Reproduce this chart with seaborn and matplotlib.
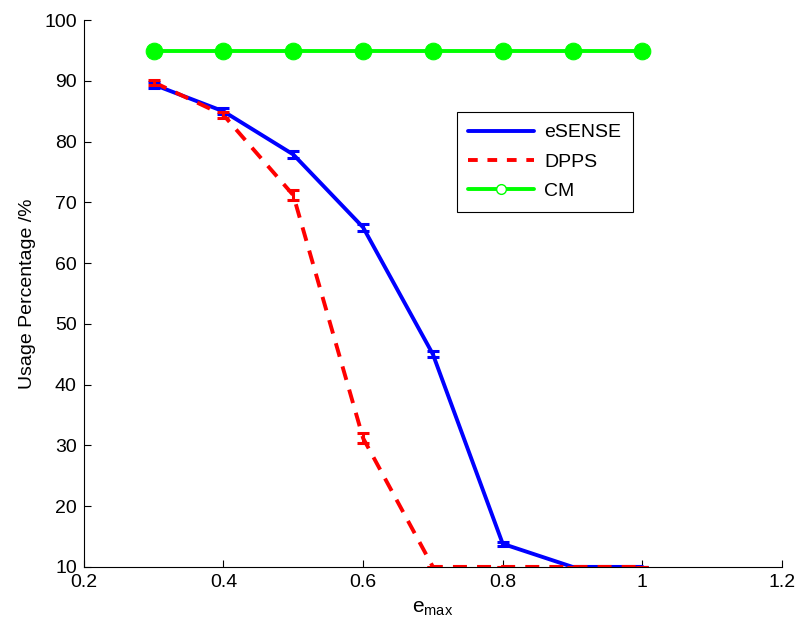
import numpy as np
import pandas as pd
import matplotlib
matplotlib.use("Agg")
import matplotlib.pyplot as plt
import seaborn as sns
from matplotlib.lines import Line2D

sns.set_style("ticks")
plt.rcParams['font.family'] = ['Liberation Sans', 'DejaVu Sans']
plt.rcParams['mathtext.fontset'] = 'custom'
plt.rcParams['mathtext.rm'] = 'Liberation Sans'
for k in ['text.color', 'axes.labelcolor', 'xtick.color', 'ytick.color', 'axes.edgecolor']:
    plt.rcParams[k] = 'black'

e_max = [0.3, 0.4, 0.5, 0.6, 0.7, 0.8, 0.9, 1.0]
esense = [89.4, 85.0, 77.9, 65.9, 45.0, 13.8, 10.0, 10.0]
esense_err = [0.5, 0.5, 0.5, 0.6, 0.5, 0.3, 0.0, 0.0]
dpps = [89.8, 84.4, 71.2, 31.2, 10.0, 10.0, 10.0, 10.0]
dpps_err = [0.4, 0.5, 0.8, 0.8, 0.0, 0.0, 0.0, 0.0]
cm = [95.0, 95.0, 95.0, 95.0, 95.0, 95.0, 95.0, 95.0]

df = pd.DataFrame({
    "e_max": e_max * 3,
    "value": esense + dpps + cm,
    "method": ["eSENSE"] * 8 + ["DPPS"] * 8 + ["CM"] * 8,
})

fig = plt.figure(figsize=(7.98, 6.32), dpi=100)
ax = fig.add_axes([0.105, 0.103, 0.875, 0.865])

blue = (0, 0, 1)
red = (1, 0, 0)
green = (0, 1, 0)

sns.lineplot(data=df[df.method == "eSENSE"], x="e_max", y="value", ax=ax,
             color=blue, lw=2.8, legend=False, errorbar=None)
sns.lineplot(data=df[df.method == "DPPS"], x="e_max", y="value", ax=ax,
             color=red, lw=2.8, legend=False, errorbar=None, dashes=False)
ax.lines[-1].set_dashes([3.6, 2.6])
sns.lineplot(data=df[df.method == "CM"], x="e_max", y="value", ax=ax,
             color=green, lw=2.8, legend=False, errorbar=None,
             marker="o", markersize=12, markerfacecolor=green,
             markeredgecolor=green)

ax.errorbar(e_max, esense, yerr=esense_err, fmt="none", ecolor=blue,
            elinewidth=2.2, capsize=4, capthick=2.2)
ax.errorbar(e_max, dpps, yerr=dpps_err, fmt="none", ecolor=red,
            elinewidth=2.2, capsize=4, capthick=2.2)

ax.set_xlim(0.2, 1.2)
ax.set_ylim(10, 100)
ax.set_xticks([0.2, 0.4, 0.6, 0.8, 1.0, 1.2])
ax.set_xticklabels(["0.2", "0.4", "0.6", "0.8", "1", "1.2"])
ax.set_yticks(np.arange(10, 101, 10))
ax.tick_params(direction="in", labelsize=14, length=5, width=0.8, pad=5,
               colors="black")
for s in ["top", "right"]:
    ax.spines[s].set_visible(False)
for s in ["left", "bottom"]:
    ax.spines[s].set_linewidth(0.8)
    ax.spines[s].set_color("black")

ax.set_xlabel(r"$\mathregular{e_{max}}$", fontsize=15, labelpad=6)
ax.set_ylabel("Usage Percentage /%", fontsize=14, labelpad=6)

handles = [
    Line2D([], [], color=blue, lw=2.8),
    Line2D([], [], color=red, lw=2.8, dashes=[2.5, 2.5]),
    Line2D([], [], color=green, lw=2.8, marker="o", markersize=7,
           markerfacecolor="white", markeredgecolor=green),
]
leg = ax.legend(handles, ["eSENSE", "DPPS", "CM"], loc="upper left",
                bbox_to_anchor=(0.534, 0.832), fontsize=14, frameon=True,
                fancybox=False, edgecolor="black", framealpha=1,
                handlelength=3.4, handletextpad=0.5, borderpad=0.6,
                labelspacing=0.6, borderaxespad=0)
leg.get_frame().set_linewidth(0.8)

fig.savefig("out.png", dpi=100)
